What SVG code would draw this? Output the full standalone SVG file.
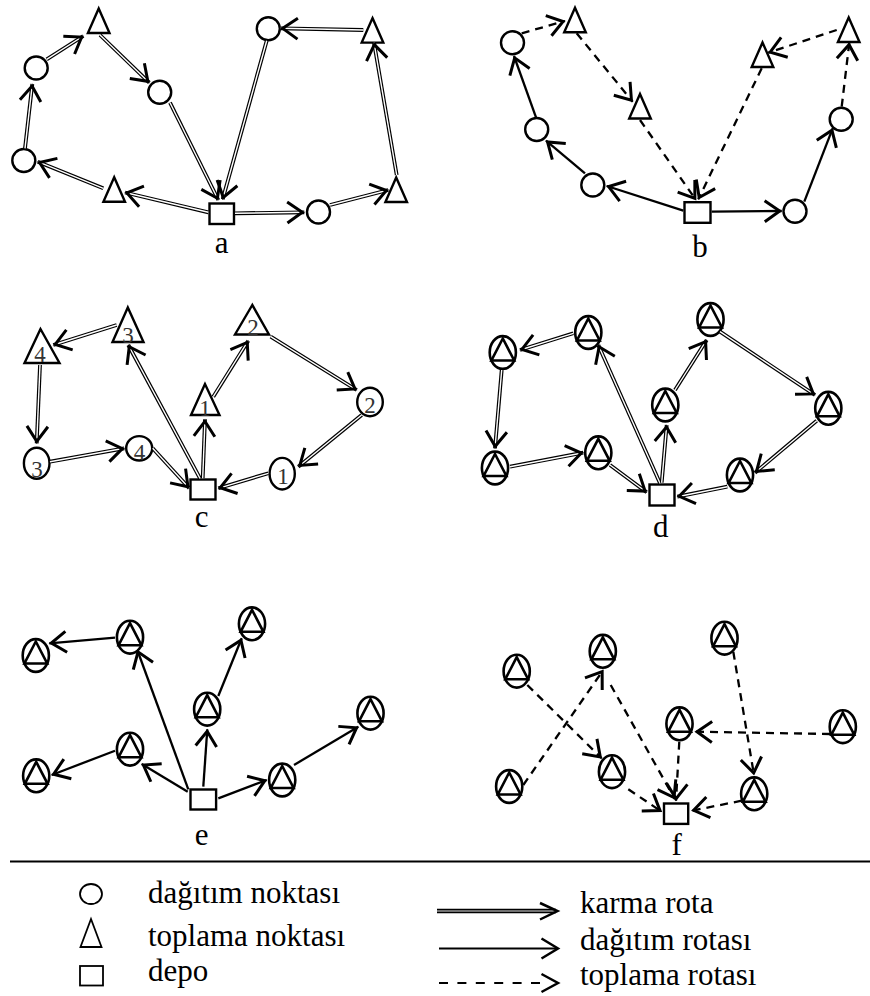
<svg xmlns="http://www.w3.org/2000/svg" xmlns:xlink="http://www.w3.org/1999/xlink" width="870" height="996" viewBox="0 0 870 996">
<style>
  .nd { fill: #fff; stroke: #000; stroke-width: 2.4; stroke-linejoin: miter; }
  .ct { fill: #fff; stroke: #000; stroke-width: 2.6; }
  .num { font-family: "Liberation Serif", "Times New Roman", serif; font-size: 23px; fill: #333; text-anchor: middle; }
  .lbl { font-family: "Liberation Serif", "Times New Roman", serif; font-size: 31px; fill: #000; }
  .cap { text-anchor: middle; }
  .mo { fill: none; stroke: #000; stroke-width: 3.8; }
  .mi { fill: none; stroke: #fff; stroke-width: 1.4; marker-end: url(#ah); }
  .so { fill: none; stroke: #000; stroke-width: 2.3; marker-end: url(#ah); }
  .da { fill: none; stroke: #000; stroke-width: 2.3; stroke-dasharray: 8 6; marker-end: url(#ah); }
  .lg { fill: none; stroke: #000; stroke-width: 1.8; }
  .hd { fill: none; stroke: #000; stroke-width: 2.5; }
</style>
<defs>
  <marker id="ah" markerUnits="userSpaceOnUse" orient="auto" refX="0" refY="0" markerWidth="22" markerHeight="24" viewBox="-20 -12 22 24" style="overflow:visible">
    <path d="M-17,-10.5 L-2,0 L-17,10.5" fill="none" stroke="#000" stroke-width="3" stroke-dasharray="none"/>
  </marker>
  <path id="tri" d="M0,-12.5 L10.8,12 L-10.8,12 Z"/>
  <g id="ctn">
    <ellipse rx="13.1" ry="16.4"/>
    <path d="M0,-14 L-11.4,8 L11.4,8 Z"/>
  </g>
</defs>

<!-- panel a: mixed routes -->
<g id="a-nodes">
  <g id="a-t1"><use xlink:href="#tri" class="nd" x="98.7" y="21"/></g>
  <g id="a-c1"><circle class="nd" cx="36.2" cy="68" r="11.5"/></g>
  <g id="a-c2"><circle class="nd" cx="159.7" cy="92.2" r="11.5"/></g>
  <g id="a-c3"><circle class="nd" cx="23.8" cy="160.5" r="11.5"/></g>
  <g id="a-t2"><use xlink:href="#tri" class="nd" x="114.2" y="189.7"/></g>
  <g id="a-dep"><rect class="nd" x="209.5" y="203.5" width="24.5" height="20.5"/></g>
  <g id="a-c4"><circle class="nd" cx="318.5" cy="212" r="11.5"/></g>
  <g id="a-t3"><use xlink:href="#tri" class="nd" x="396.2" y="190"/></g>
  <g id="a-t4"><use xlink:href="#tri" class="nd" x="372.5" y="30.6"/></g>
  <g id="a-c5"><circle class="nd" cx="268.3" cy="28.7" r="11.5"/></g>
</g>

<!-- panel b: separate delivery and pickup routes -->
<g id="b-nodes">
  <g id="b-t1"><use xlink:href="#tri" class="nd" x="575" y="20.2"/></g>
  <g id="b-c1"><circle class="nd" cx="512.5" cy="42.8" r="11.5"/></g>
  <g id="b-t2"><use xlink:href="#tri" class="nd" x="640" y="106.5"/></g>
  <g id="b-c2"><circle class="nd" cx="536.7" cy="129.5" r="11.5"/></g>
  <g id="b-c3"><circle class="nd" cx="592.8" cy="185" r="11.5"/></g>
  <g id="b-dep"><rect class="nd" x="684.5" y="202.2" width="26" height="20.6"/></g>
  <g id="b-c4"><circle class="nd" cx="795" cy="211.2" r="11.5"/></g>
  <g id="b-c5"><circle class="nd" cx="841.2" cy="119.2" r="11.5"/></g>
  <g id="b-t3"><use xlink:href="#tri" class="nd" x="848.7" y="30"/></g>
  <g id="b-t4"><use xlink:href="#tri" class="nd" x="762.5" y="55"/></g>
</g>

<!-- panel c: numbered stops -->
<g id="c-nodes">
  <g id="c-t4"><polygon class="nd" points="40.5,329 24.5,363 59.5,363"/><text class="num" x="40" y="362">4</text></g>
  <g id="c-t3"><polygon class="nd" points="127.8,307.5 112.5,342 143.5,342"/><text class="num" x="128" y="342.5">3</text></g>
  <g id="c-t2"><polygon class="nd" points="252.3,305 235,334.5 269,334.5"/><text class="num" x="253" y="335">2</text></g>
  <g id="c-t1"><polygon class="nd" points="205,384 191,415 219.5,415"/><text class="num" x="205" y="416">1</text></g>
  <g id="c-c2"><ellipse class="nd" cx="370" cy="402" rx="12.8" ry="14.2"/><text class="num" x="370" y="412.5">2</text></g>
  <g id="c-c1"><ellipse class="nd" cx="282.2" cy="473.7" rx="12.6" ry="15.8"/><text class="num" x="283" y="484">1</text></g>
  <g id="c-c3"><ellipse class="nd" cx="36.7" cy="463.3" rx="12.8" ry="15.5"/><text class="num" x="37" y="476.5">3</text></g>
  <g id="c-c4"><ellipse class="nd" cx="139.2" cy="448.3" rx="13" ry="12.2"/><text class="num" x="139.5" y="459.5">4</text></g>
  <g id="c-dep"><rect class="nd" x="190.5" y="479.5" width="25" height="20"/></g>
</g>

<!-- panel d: combined stops, mixed routes -->
<g id="d-nodes">
  <g id="d-n1"><use xlink:href="#ctn" class="ct" x="502.8" y="352.5"/></g>
  <g id="d-n2"><use xlink:href="#ctn" class="ct" x="588.3" y="332.5"/></g>
  <g id="d-n3"><use xlink:href="#ctn" class="ct" x="710.5" y="319.5"/></g>
  <g id="d-n4"><use xlink:href="#ctn" class="ct" x="665.3" y="405"/></g>
  <g id="d-n5"><use xlink:href="#ctn" class="ct" x="828.3" y="408.3"/></g>
  <g id="d-n6"><use xlink:href="#ctn" class="ct" x="740" y="475"/></g>
  <g id="d-n7"><use xlink:href="#ctn" class="ct" x="495" y="468"/></g>
  <g id="d-n8"><use xlink:href="#ctn" class="ct" x="598.3" y="452.8"/></g>
  <g id="d-dep"><rect class="nd" x="649.5" y="484.5" width="25" height="21"/></g>
</g>

<!-- panel e: combined stops, delivery routes -->
<g id="e-nodes">
  <g id="e-n1"><use xlink:href="#ctn" class="ct" x="35.8" y="655.5"/></g>
  <g id="e-n2"><use xlink:href="#ctn" class="ct" x="130" y="637.2"/></g>
  <g id="e-n3"><use xlink:href="#ctn" class="ct" x="252" y="623.8"/></g>
  <g id="e-n4"><use xlink:href="#ctn" class="ct" x="207.2" y="709.2"/></g>
  <g id="e-n5"><use xlink:href="#ctn" class="ct" x="370.5" y="713.2"/></g>
  <g id="e-n6"><use xlink:href="#ctn" class="ct" x="130" y="749.2"/></g>
  <g id="e-n7"><use xlink:href="#ctn" class="ct" x="36.2" y="775.8"/></g>
  <g id="e-n8"><use xlink:href="#ctn" class="ct" x="282.2" y="780"/></g>
  <g id="e-dep"><rect class="nd" x="190.5" y="789.5" width="25.6" height="20"/></g>
</g>

<!-- panel f: combined stops, pickup routes -->
<g id="f-nodes">
  <g id="f-n1"><use xlink:href="#ctn" class="ct" x="516.7" y="671.2"/></g>
  <g id="f-n2"><use xlink:href="#ctn" class="ct" x="602.8" y="651.3"/></g>
  <g id="f-n3"><use xlink:href="#ctn" class="ct" x="724.5" y="638.2"/></g>
  <g id="f-n4"><use xlink:href="#ctn" class="ct" x="679.5" y="723.8"/></g>
  <g id="f-n5"><use xlink:href="#ctn" class="ct" x="842.8" y="726.7"/></g>
  <g id="f-n6"><use xlink:href="#ctn" class="ct" x="509.2" y="786.5"/></g>
  <g id="f-n7"><use xlink:href="#ctn" class="ct" x="612" y="771.7"/></g>
  <g id="f-n8"><use xlink:href="#ctn" class="ct" x="754.2" y="793.8"/></g>
  <g id="f-dep"><rect class="nd" x="664" y="803.5" width="24.2" height="20.4"/></g>
</g>

<!-- connectors -->
<g id="connectors">
  <!-- a: mixed (double line) -->
  <g id="a-edges">
    <path class="mo" d="M208.3,212.3 L125,192.5"/><path class="mi" d="M208.3,212.3 L125,192.5"/>
    <path class="mo" d="M103.3,188.3 L37.7,161.7"/><path class="mi" d="M103.3,188.3 L37.7,161.7"/>
    <path class="mo" d="M25,148.3 L32.3,84"/><path class="mi" d="M25,148.3 L32.3,84"/>
    <path class="mo" d="M46.7,59.3 L83.3,36"/><path class="mi" d="M46.7,59.3 L83.3,36"/>
    <path class="mo" d="M100,35 L149.3,82.7"/><path class="mi" d="M100,35 L149.3,82.7"/>
    <path class="mo" d="M170,102.7 L218.3,200"/><path class="mi" d="M170,102.7 L218.3,200"/>
    <path class="mo" d="M266.7,40.7 L222.7,199.3"/><path class="mi" d="M266.7,40.7 L222.7,199.3"/>
    <path class="mo" d="M363.3,30 L280.7,28.3"/><path class="mi" d="M363.3,30 L280.7,28.3"/>
    <path class="mo" d="M396.7,175 L374,42.7"/><path class="mi" d="M396.7,175 L374,42.7"/>
    <path class="mo" d="M330,205 L388.3,190"/><path class="mi" d="M330,205 L388.3,190"/>
    <path class="mo" d="M235,213.3 L304.3,212.3"/><path class="mi" d="M235,213.3 L304.3,212.3"/>
  </g>
  <!-- b: delivery (solid) and pickup (dashed) -->
  <g id="b-edges">
    <path class="so" d="M711.7,211.7 L781.7,211"/>
    <path class="so" d="M804.3,201.7 L832.7,128.3"/>
    <path class="da" d="M841.7,106.7 L849.3,42.7"/>
    <path class="da" d="M836.7,30 L768.3,52.7"/>
    <path class="da" d="M761.7,68.3 L698.3,199.3"/>
    <path class="so" d="M683.3,210.7 L606.7,186"/>
    <path class="so" d="M585,173.3 L546,140.7"/>
    <path class="so" d="M536,117.3 L514,56"/>
    <path class="da" d="M521.7,33.3 L565,21"/>
    <path class="da" d="M576.7,33.3 L632.7,101.7"/>
    <path class="da" d="M640,120 L696,200"/>
  </g>
  <!-- c: mixed (double line) -->
  <g id="c-edges">
    <path class="mo" d="M202.7,478.3 L205,419.3"/><path class="mi" d="M202.7,478.3 L205,419.3"/>
    <path class="mo" d="M213.3,396.7 L248.3,340.7"/><path class="mi" d="M213.3,396.7 L248.3,340.7"/>
    <path class="mo" d="M270.7,336.7 L356.7,390"/><path class="mi" d="M270.7,336.7 L356.7,390"/>
    <path class="mo" d="M361.7,415 L298.3,466.7"/><path class="mi" d="M361.7,415 L298.3,466.7"/>
    <path class="mo" d="M268.3,473.3 L218.3,488.3"/><path class="mi" d="M268.3,473.3 L218.3,488.3"/>
    <path class="mo" d="M200,478.3 L128.3,345"/><path class="mi" d="M200,478.3 L128.3,345"/>
    <path class="mo" d="M116.7,325 L53.3,345"/><path class="mi" d="M116.7,325 L53.3,345"/>
    <path class="mo" d="M40,365 L36.7,443.3"/><path class="mi" d="M40,365 L36.7,443.3"/>
    <path class="mo" d="M50,461.7 L124.3,448.3"/><path class="mi" d="M50,461.7 L124.3,448.3"/>
    <path class="mo" d="M152.7,448.3 L189.3,488.3"/><path class="mi" d="M152.7,448.3 L189.3,488.3"/>
  </g>
  <!-- d: mixed (double line) -->
  <g id="d-edges">
    <path class="mo" d="M660,483.3 L598.3,345"/><path class="mi" d="M660,483.3 L598.3,345"/>
    <path class="mo" d="M573.3,333.3 L520,350"/><path class="mi" d="M573.3,333.3 L520,350"/>
    <path class="mo" d="M501.7,370 L495,448.3"/><path class="mi" d="M501.7,370 L495,448.3"/>
    <path class="mo" d="M510,466.7 L583.3,452.7"/><path class="mi" d="M510,466.7 L583.3,452.7"/>
    <path class="mo" d="M610,465 L646.7,492.3"/><path class="mi" d="M610,465 L646.7,492.3"/>
    <path class="mo" d="M661.7,482.7 L666.7,425"/><path class="mi" d="M661.7,482.7 L666.7,425"/>
    <path class="mo" d="M675,390 L706.7,340"/><path class="mi" d="M675,390 L706.7,340"/>
    <path class="mo" d="M720,331.7 L815,395"/><path class="mi" d="M720,331.7 L815,395"/>
    <path class="mo" d="M816.7,420.7 L755,472.7"/><path class="mi" d="M816.7,420.7 L755,472.7"/>
    <path class="mo" d="M727.3,486.7 L677.3,496.7"/><path class="mi" d="M727.3,486.7 L677.3,496.7"/>
  </g>
  <!-- e: delivery (solid) -->
  <g id="e-edges">
    <path class="so" d="M188.3,789.3 L137.3,650"/>
    <path class="so" d="M115,637.7 L49.3,643.3"/>
    <path class="so" d="M203.3,786.7 L207.3,729.3"/>
    <path class="so" d="M218.3,696 L241.7,638.3"/>
    <path class="so" d="M187.7,791.7 L141.7,764"/>
    <path class="so" d="M115,750.7 L51.7,775"/>
    <path class="so" d="M218.3,798.3 L266.7,780"/>
    <path class="so" d="M294,765 L358.3,726.7"/>
  </g>
  <!-- f: pickup (dashed) -->
  <g id="f-edges">
    <path class="da" d="M527.3,685 L601.7,758.3"/>
    <path class="da" d="M523.3,785 L603.3,670"/>
    <path class="da" d="M610.7,685 L675,799.3"/>
    <path class="da" d="M679.3,741.7 L676,800.7"/>
    <path class="da" d="M830,734 L695,731.7"/>
    <path class="da" d="M733.3,651.7 L754,775"/>
    <path class="da" d="M741.7,800.7 L691.7,810.7"/>
    <path class="da" d="M628.3,789.3 L661.7,811.7"/>
  </g>
</g>

<!-- panel captions -->
<g id="captions" class="lbl cap">
  <text x="221.7" y="253">a</text>
  <text x="700" y="257">b</text>
  <text x="201.7" y="527">c</text>
  <text x="660.7" y="537">d</text>
  <text x="201.7" y="845">e</text>
  <text x="676.7" y="855">f</text>
</g>

<!-- legend -->
<g id="legend">
  <path d="M10,861.5 H870" stroke="#000" stroke-width="2"/>
  <ellipse class="lg" cx="91" cy="894" rx="11" ry="10"/>
  <polygon class="lg" points="91,919 80.5,947 101.5,947"/>
  <rect class="lg" x="80" y="966" width="23" height="19.5"/>
  <text class="lbl" x="148" y="903">dağıtım noktası</text>
  <text class="lbl" x="148" y="946">toplama noktası</text>
  <text class="lbl" x="148" y="981">depo</text>

  <path d="M437,911 H556" stroke="#000" stroke-width="4.5"/>
  <path d="M437,911 H556" stroke="#999" stroke-width="1.6"/>
  <path class="hd" d="M540,903 L557.5,911 L540,919.5"/>
  <path d="M439,948.5 H556" stroke="#000" stroke-width="2.2"/>
  <path class="hd" d="M541.5,938.5 L558,948.5 L541.5,958.5"/>
  <path d="M439,983 H541" stroke="#000" stroke-width="2.2" stroke-dasharray="9 9.4"/>
  <path class="hd" d="M541.5,974 L558,983 L541.5,992"/>
  <text class="lbl" x="580" y="913">karma rota</text>
  <text class="lbl" x="580" y="950">dağıtım rotası</text>
  <text class="lbl" x="580" y="985">toplama rotası</text>
</g>
</svg>
